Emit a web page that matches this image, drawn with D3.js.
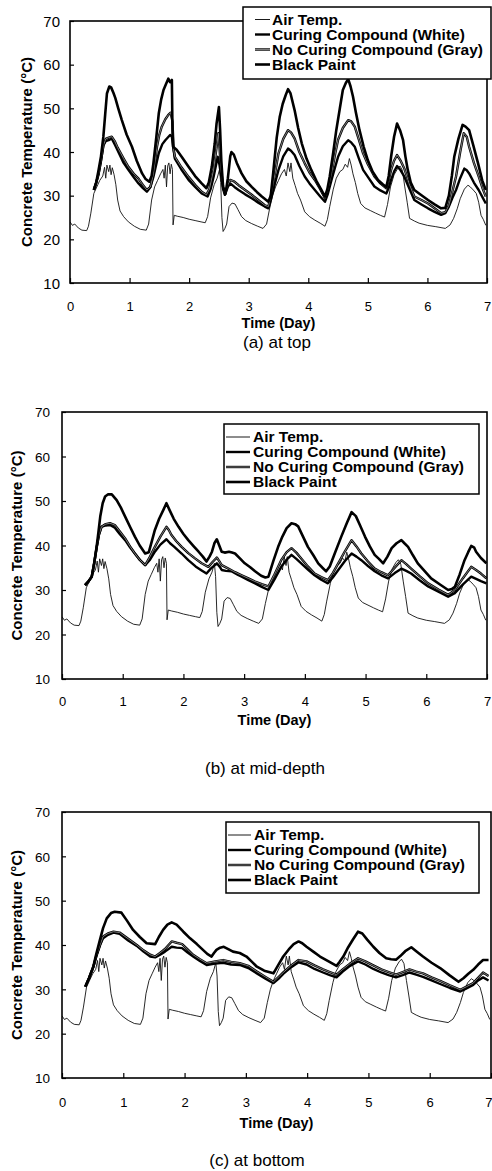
<!DOCTYPE html>
<html><head><meta charset="utf-8">
<script src="https://cdn.jsdelivr.net/npm/d3@7"></script>
<style>body{margin:0;background:#fff}svg{display:block}</style>
</head><body>
<svg id="chart" width="492" height="1171"></svg>
<script>
// ---------- data ----------
const xTicks = [0,1,2,3,4,5,6,7];
const yTicks = [10,20,30,40,50,60,70];
const seriesNames = ["Air Temp.","Curing Compound (White)","No Curing Compound (Gray)","Black Paint"];
const panelCaptions = ["(a) at top","(b) at mid-depth","(c) at bottom"];

const airTemp = [[0,24.0],[0.04,23.2],[0.08,23.5],[0.14,22.6],[0.2,22.1],[0.28,22.0],[0.31,23],[0.35,26],[0.4,30.5],[0.45,32],[0.5,33.5],[0.55,34.5],[0.58,36.5],[0.6,34],[0.62,37],[0.65,35.5],[0.67,37],[0.69,34.8],[0.71,36.4],[0.74,34.8],[0.77,32.5],[0.8,29],[0.84,26.5],[0.9,25.2],[0.98,24],[1.08,23],[1.18,22.3],[1.28,22.1],[1.32,23.5],[1.37,29],[1.42,32],[1.47,33.5],[1.52,35],[1.56,36],[1.58,34],[1.6,37],[1.62,32],[1.64,36.8],[1.66,37.5],[1.68,35],[1.7,37.2],[1.72,36],[1.73,23.3],[1.75,25.5],[1.8,25.3],[1.9,25],[2.0,24.6],[2.1,24.3],[2.2,24.0],[2.27,23.8],[2.31,25.2],[2.36,29.5],[2.42,32.5],[2.47,34],[2.51,36],[2.53,33],[2.55,25],[2.57,21.8],[2.6,22.5],[2.63,23.5],[2.67,27.5],[2.72,28.3],[2.77,28.1],[2.82,26.8],[2.88,25.2],[2.95,24.3],[3.05,23.6],[3.15,23],[3.24,22.5],[3.3,23.5],[3.35,27],[3.4,30],[3.45,32],[3.5,33.5],[3.55,35],[3.6,36],[3.63,34.5],[3.66,37.5],[3.69,35.5],[3.71,37.5],[3.74,34],[3.78,32.3],[3.82,30.5],[3.87,29],[3.94,26.3],[4.02,25.2],[4.11,24.4],[4.2,23.7],[4.28,23.0],[4.32,24.5],[4.36,27.5],[4.42,31.5],[4.47,34],[4.53,35.5],[4.58,36],[4.62,37.2],[4.66,36.5],[4.69,38.5],[4.72,37],[4.75,35],[4.79,33],[4.83,30.5],[4.88,28.2],[4.95,27.2],[5.04,26.6],[5.13,26],[5.21,25.5],[5.28,25.1],[5.33,28],[5.38,32],[5.44,34.8],[5.5,36.2],[5.54,36.8],[5.58,35.8],[5.62,32],[5.66,28.5],[5.7,24.8],[5.78,24.2],[5.86,23.7],[6.0,23.2],[6.14,22.9],[6.3,22.5],[6.38,23.3],[6.44,24.8],[6.5,27],[6.55,29.3],[6.62,31.5],[6.68,32.4],[6.72,32],[6.77,31.3],[6.82,30.5],[6.86,28.5],[6.9,25.5],[6.94,24.5],[6.98,23.2]];

const topBlack = [[0.40,31.3],[0.44,33],[0.48,35.9],[0.52,39],[0.56,43.5],[0.59,48.5],[0.62,53.4],[0.66,55],[0.69,54.8],[0.73,53.5],[0.76,52.4],[0.81,50],[0.87,47.3],[0.95,44],[1.04,41.2],[1.12,38],[1.21,35.1],[1.27,33.8],[1.33,33.2],[1.37,34.5],[1.40,37.4],[1.45,43.5],[1.49,48.8],[1.53,52],[1.57,54.2],[1.61,55.5],[1.65,56.8],[1.68,56],[1.71,56.5],[1.72,45],[1.73,41.2],[1.79,40.5],[1.88,38.8],[1.99,36.6],[2.1,34.5],[2.21,32.8],[2.29,31.7],[2.33,33],[2.38,36.6],[2.43,42],[2.46,46.5],[2.50,50.3],[2.52,45],[2.54,38],[2.57,32],[2.61,30.4],[2.65,34],[2.69,39],[2.71,40],[2.75,39.4],[2.8,37.5],[2.88,35.1],[2.96,33.3],[3.05,32],[3.14,30.8],[3.22,29.8],[3.33,28.6],[3.37,30],[3.41,35.1],[3.47,43.3],[3.52,48],[3.57,51],[3.62,53],[3.66,54.4],[3.7,53.5],[3.77,49.6],[3.83,45.5],[3.89,42],[3.97,38.5],[4.05,35.9],[4.14,33.3],[4.22,31.3],[4.28,29.8],[4.32,31.5],[4.36,34.4],[4.42,40],[4.47,45],[4.53,50],[4.58,54.2],[4.63,55.8],[4.67,56.7],[4.71,55],[4.75,52.7],[4.8,49],[4.86,45],[4.93,41.2],[5.0,38.1],[5.08,35.5],[5.17,33.6],[5.25,32.6],[5.31,32],[5.35,34.5],[5.39,38.9],[5.44,43.5],[5.49,46.5],[5.54,45],[5.59,42.8],[5.63,39],[5.67,35.9],[5.72,33],[5.78,31.3],[5.9,30.1],[6.01,29],[6.12,28],[6.23,27.1],[6.3,27.2],[6.36,30],[6.41,34.5],[6.45,38.9],[6.52,43],[6.59,46.2],[6.64,45.8],[6.7,45],[6.77,41.5],[6.85,37.4],[6.92,33.5],[6.98,31.3]];
const topGray = [[0.40,31.3],[0.44,33],[0.48,35],[0.52,38],[0.56,41.5],[0.6,43],[0.65,43.3],[0.70,43.5],[0.75,42.5],[0.8,41],[0.9,38.5],[0.98,36.6],[1.07,35],[1.15,33.9],[1.22,32.5],[1.29,31.3],[1.35,32],[1.40,35],[1.46,41.2],[1.50,44],[1.54,45.8],[1.6,47.5],[1.65,48.5],[1.69,49],[1.72,47],[1.74,40.5],[1.76,38.9],[1.87,36.5],[1.99,34.3],[2.1,32.5],[2.21,30.9],[2.29,30.2],[2.34,31.5],[2.41,35.9],[2.46,41],[2.49,44.3],[2.51,41],[2.53,36.6],[2.57,32],[2.60,30.4],[2.65,32.5],[2.69,33.6],[2.75,33.3],[2.83,32.4],[2.94,31.3],[3.05,30.2],[3.16,29],[3.27,27.8],[3.33,27.5],[3.38,30.5],[3.44,35],[3.5,39.7],[3.58,43],[3.66,45],[3.71,44.5],[3.77,43.1],[3.85,40],[3.94,37.4],[4.02,35.3],[4.11,33.6],[4.2,31.5],[4.28,29.4],[4.33,31.5],[4.39,35.1],[4.45,39.5],[4.50,42.8],[4.58,45.5],[4.67,47.3],[4.72,47],[4.78,45.8],[4.85,42.8],[4.92,39.7],[5.0,37.2],[5.11,34.4],[5.21,32.8],[5.31,31.7],[5.35,33.5],[5.39,35.9],[5.44,38],[5.49,39.3],[5.55,38],[5.61,36.3],[5.7,32.5],[5.78,29.8],[5.9,29],[6.01,28.2],[6.12,27.1],[6.23,26],[6.3,26.2],[6.36,27.8],[6.42,31],[6.48,34.4],[6.55,40],[6.61,44.3],[6.66,43.5],[6.7,41.2],[6.78,37.5],[6.86,34.4],[6.93,31.5],[6.98,29.8]];
const topWhite = [[0.40,31.3],[0.44,33],[0.48,35],[0.52,38],[0.56,41.5],[0.6,42.5],[0.65,42.7],[0.70,43.1],[0.76,41.5],[0.82,39.8],[0.9,37.5],[0.98,35.9],[1.07,34.2],[1.15,32.8],[1.22,31.8],[1.29,30.9],[1.35,32],[1.40,34.3],[1.49,39.7],[1.55,41.8],[1.6,42.7],[1.68,43.9],[1.71,43.5],[1.72,42.4],[1.76,38.5],[1.87,36],[1.99,33.6],[2.1,32],[2.21,30.5],[2.31,29.8],[2.36,31.5],[2.41,34.3],[2.48,38.9],[2.51,37],[2.53,35.1],[2.57,31.5],[2.60,30.2],[2.65,32],[2.69,32.8],[2.76,32],[2.83,31.3],[2.94,30.3],[3.05,29.4],[3.16,28.4],[3.27,27.5],[3.33,27.1],[3.38,29.5],[3.44,32.8],[3.5,35.9],[3.58,39],[3.66,40.8],[3.71,40.3],[3.77,39.3],[3.85,36.8],[3.94,34.4],[4.02,32.8],[4.11,31.3],[4.2,29.8],[4.28,28.6],[4.33,30.5],[4.39,33.6],[4.45,36.5],[4.5,38.9],[4.58,41.3],[4.67,42.7],[4.72,42.2],[4.78,41.2],[4.85,38.5],[4.92,35.9],[5.0,34.3],[5.11,32.1],[5.21,31.2],[5.31,30.5],[5.35,31.8],[5.39,33.6],[5.44,35.5],[5.49,36.8],[5.55,35.8],[5.61,34.4],[5.7,31.5],[5.78,29],[5.9,28],[6.01,27.1],[6.12,26.3],[6.23,25.6],[6.3,26],[6.36,27.5],[6.42,29.5],[6.48,31.3],[6.55,34],[6.62,36.2],[6.66,35.8],[6.7,35.1],[6.78,33],[6.86,31.3],[6.93,29.5],[6.98,28.2]];

const midBlack = [[0.38,31.1],[0.44,32],[0.49,33],[0.53,36],[0.57,39.7],[0.6,43],[0.63,46.5],[0.67,49.5],[0.71,51],[0.76,51.5],[0.82,51.5],[0.9,50.2],[0.97,48.5],[1.04,46.5],[1.12,44.2],[1.20,42],[1.28,40],[1.37,38.2],[1.43,38.5],[1.48,41],[1.53,43.5],[1.6,46],[1.67,48],[1.72,49.5],[1.77,48],[1.84,46],[1.92,44.2],[2.0,42.6],[2.08,41.2],[2.17,39.8],[2.25,38.6],[2.32,37.5],[2.38,36.4],[2.43,37.5],[2.47,38.6],[2.51,40.5],[2.55,41.4],[2.59,40],[2.63,38.6],[2.68,38.4],[2.75,38.6],[2.8,38.4],[2.85,38.2],[2.93,37.1],[3.01,36],[3.1,35.1],[3.18,34.2],[3.28,33.2],[3.35,32.8],[3.4,33],[3.48,36.5],[3.56,39.7],[3.63,42],[3.70,43.9],[3.78,45],[3.84,44.8],[3.89,44.3],[3.97,42],[4.05,39.7],[4.14,37.8],[4.22,36],[4.29,35],[4.35,34.2],[4.41,35.3],[4.5,38.5],[4.6,42],[4.69,45],[4.77,47.5],[4.84,46.6],[4.91,44.5],[4.99,42],[5.07,39.8],[5.15,37.9],[5.22,37],[5.29,36],[5.36,37.5],[5.43,39.4],[5.51,40.5],[5.59,41.2],[5.64,40.5],[5.70,39.7],[5.78,37.8],[5.86,36],[5.97,34.3],[6.08,32.6],[6.22,31.3],[6.36,30],[6.42,30.2],[6.47,30.7],[6.55,33.5],[6.63,36.7],[6.69,38.5],[6.74,39.9],[6.79,39.5],[6.82,38.6],[6.9,37.2],[6.99,36]];
const midGray = [[0.38,31.1],[0.44,32],[0.49,33],[0.53,36],[0.57,39.5],[0.61,42.5],[0.65,44.2],[0.72,44.8],[0.79,45],[0.87,44.6],[0.95,43.2],[1.04,41.6],[1.12,39.8],[1.20,38.2],[1.28,36.8],[1.37,35.6],[1.45,37.5],[1.53,39.7],[1.62,42],[1.72,44.2],[1.76,43.5],[1.80,42.4],[1.88,41],[1.97,39.7],[2.08,38.3],[2.19,37.1],[2.3,36],[2.41,35.2],[2.48,36.3],[2.55,37.3],[2.59,36.5],[2.63,35.6],[2.74,34.8],[2.85,34],[2.96,33.3],[3.07,32.6],[3.18,31.9],[3.29,31.3],[3.40,30.8],[3.5,33.5],[3.61,36.7],[3.7,38.5],[3.78,39.4],[3.86,38.4],[3.94,37.1],[4.05,35.3],[4.16,33.7],[4.27,32.9],[4.38,32.2],[4.46,33.8],[4.55,36],[4.66,38.7],[4.77,41.2],[4.85,39.8],[4.93,38.2],[5.04,36.4],[5.15,34.8],[5.26,34],[5.37,33.3],[5.48,35],[5.59,36.7],[5.67,35.8],[5.75,34.8],[5.89,33.1],[6.03,31.5],[6.2,30.1],[6.36,28.9],[6.47,30],[6.6,32.6],[6.74,35.2],[6.82,34.5],[6.9,33.7],[6.99,32.6]];
const midWhite = [[0.38,31.1],[0.44,32],[0.49,33],[0.53,36],[0.57,39.5],[0.61,42.5],[0.65,44.2],[0.72,44.5],[0.79,44.6],[0.87,44],[0.95,42.6],[1.04,41.2],[1.12,39.6],[1.20,38.2],[1.28,36.8],[1.37,35.6],[1.45,36.8],[1.53,38.6],[1.62,40.2],[1.72,41.4],[1.78,40.5],[1.85,39.7],[1.97,38.2],[2.08,36.7],[2.2,35.3],[2.3,34.4],[2.38,33.7],[2.45,34.8],[2.55,36],[2.6,35.2],[2.63,34.5],[2.7,34.3],[2.79,34.2],[2.9,33.4],[2.96,33],[3.07,32.2],[3.18,31.5],[3.29,30.7],[3.40,30],[3.5,32.4],[3.61,35.2],[3.7,36.8],[3.78,37.9],[3.86,37],[3.94,36],[4.05,34.6],[4.16,33.3],[4.27,32.3],[4.38,31.5],[4.46,32.8],[4.55,34.5],[4.66,36.5],[4.77,38.2],[4.85,37.5],[4.93,36.7],[5.04,35.4],[5.15,34.2],[5.26,33.3],[5.37,32.6],[5.48,33.8],[5.59,34.8],[5.67,34.3],[5.75,33.7],[5.89,32.2],[6.03,30.8],[6.2,29.6],[6.36,28.5],[6.47,29.3],[6.6,31.2],[6.74,33],[6.82,32.5],[6.9,32],[6.99,31.5]];

const botBlack = [[0.38,30.6],[0.44,32.5],[0.51,35.1],[0.56,38],[0.62,41.2],[0.67,43.8],[0.73,46],[0.8,47.2],[0.86,47.5],[0.97,47.3],[1.06,45.5],[1.16,43.4],[1.27,41.8],[1.38,40.4],[1.52,40.2],[1.58,41.8],[1.65,43.4],[1.72,44.6],[1.79,45.1],[1.87,44.6],[1.98,43],[2.09,41.5],[2.2,40.2],[2.30,38.9],[2.37,38],[2.44,37.4],[2.48,38.2],[2.52,38.9],[2.58,39.4],[2.64,39.6],[2.72,39],[2.79,38.5],[2.9,38.2],[3.01,37.4],[3.1,36.2],[3.18,35.1],[3.3,34.2],[3.45,33.6],[3.53,35.5],[3.61,37.4],[3.7,39],[3.78,40.2],[3.86,40.8],[3.92,40.4],[3.99,39.6],[4.1,38.5],[4.21,37.4],[4.35,36.3],[4.48,35.3],[4.53,36.2],[4.59,37.4],[4.67,39.5],[4.75,41.3],[4.83,43],[4.9,42.6],[4.98,41.2],[5.08,39.6],[5.18,38.2],[5.29,37],[5.37,36.8],[5.45,36.7],[5.52,37.5],[5.6,38.6],[5.7,39.5],[5.78,38.6],[5.89,37.4],[6.03,36],[6.17,34.8],[6.32,33.2],[6.47,31.7],[6.55,32.5],[6.63,33.5],[6.71,34.4],[6.79,35.6],[6.87,36.6],[6.96,36.6]];
const botGray = [[0.38,30.6],[0.44,32.5],[0.51,35],[0.56,37.5],[0.62,40],[0.67,41.9],[0.75,42.6],[0.84,43],[0.94,42.8],[1.08,41.4],[1.22,40],[1.33,38.8],[1.44,37.8],[1.52,37.4],[1.6,38.2],[1.68,39.1],[1.79,40.8],[1.87,40.5],[1.96,40.2],[2.05,39],[2.14,37.8],[2.25,36.8],[2.36,35.9],[2.5,36.3],[2.63,36.6],[2.76,36.2],[2.9,35.9],[3.04,35.3],[3.18,34],[3.32,32.8],[3.45,31.7],[3.55,33],[3.61,33.8],[3.74,35.4],[3.86,36.6],[3.99,36.3],[4.12,35.4],[4.26,34.5],[4.37,33.9],[4.48,33.3],[4.58,34.5],[4.7,35.8],[4.83,37],[4.95,36.3],[5.08,35.4],[5.21,34.5],[5.33,33.9],[5.45,33.3],[5.56,33.9],[5.67,34.5],[5.78,34],[5.89,33.6],[6.03,32.7],[6.17,31.9],[6.33,30.9],[6.5,29.9],[6.6,30.6],[6.71,31.4],[6.79,32.6],[6.87,33.8],[6.96,33]];
const botWhite = [[0.38,30.6],[0.44,32.5],[0.51,35],[0.56,37.5],[0.62,40],[0.67,41.5],[0.75,42.3],[0.84,42.8],[0.94,42.5],[1.08,41],[1.22,39.8],[1.33,38.5],[1.44,37.4],[1.52,37.2],[1.6,37.8],[1.68,38.5],[1.79,39.6],[1.87,39.4],[1.96,39.3],[2.05,38.3],[2.14,37.4],[2.25,36.4],[2.36,35.5],[2.5,35.8],[2.63,36],[2.76,35.6],[2.9,35.5],[3.04,34.8],[3.18,33.6],[3.32,32.4],[3.45,31.4],[3.55,32.6],[3.61,33.5],[3.74,35],[3.86,36.1],[3.99,35.6],[4.12,34.6],[4.26,33.8],[4.37,33.2],[4.48,32.7],[4.58,34],[4.7,35.3],[4.83,36.3],[4.95,35.6],[5.08,34.6],[5.21,33.8],[5.33,33.2],[5.45,32.7],[5.56,33.2],[5.67,33.8],[5.78,33.3],[5.89,32.8],[6.03,32],[6.17,31.2],[6.33,30.3],[6.5,29.5],[6.6,30.2],[6.71,31],[6.79,32],[6.87,32.7],[6.96,32]];

// ---------- layout ----------
const svg = d3.select("#chart");
const FONT = "'Liberation Sans', Arial, sans-serif";

const panels = [
  {box:{l:70,r:487,t:21,b:283}, ytick:15, ylx:27, legend:{x:243,y:7,w:248,h:72,tx:272,mx0:255,mx1:270,ly:[19.5,34.5,49.5,64.5]},
   tickY:306, titleY:323, capY:342, capX:277, series:[topWhite,topGray,topBlack]},
  {box:{l:62,r:487,t:412,b:679}, ytick:13.5, ylx:17, legend:{x:224,y:424,w:255,h:70,tx:253,mx0:226,mx1:250,ly:[437,452,467,482]},
   tickY:701, titleY:720, capY:768, capX:265, series:[midWhite,midGray,midBlack]},
  {box:{l:62,r:491,t:812,b:1078}, ytick:13.5, ylx:17, legend:{x:226,y:822,w:253,h:71,tx:254,mx0:228,mx1:251,ly:[835,850,865,880]},
   tickY:1102, titleY:1123, capY:1160, capX:257, series:[botWhite,botGray,botBlack]}
];

panels.forEach((p,i)=>{
  const b = p.box;
  const x = d3.scaleLinear().domain([0,7]).range([b.l,b.r]);
  const y = d3.scaleLinear().domain([10,70]).range([b.b,b.t]);
  const g = svg.append("g");
  const clipId = "clip"+i;
  svg.append("clipPath").attr("id",clipId).append("rect")
     .attr("x",b.l).attr("y",b.t).attr("width",b.r-b.l).attr("height",b.b-b.t);

  const line = d3.line().x(d=>x(d[0])).y(d=>y(d[1]));
  const lg = g.append("g").attr("clip-path",`url(#${clipId})`);
  lg.append("path").datum(airTemp).attr("d",line).attr("fill","none")
    .attr("stroke","#111").attr("stroke-width",0.9).attr("stroke-linejoin","round");
  const [w,gr,bl] = p.series;
  lg.append("path").datum(w).attr("d",line).attr("fill","none").attr("stroke","#000").attr("stroke-width",2.4).attr("stroke-linejoin","round");
  lg.append("path").datum(gr).attr("d",line).attr("fill","none").attr("stroke","#000").attr("stroke-width",2.4).attr("stroke-linejoin","round");
  lg.append("path").datum(gr).attr("d",line).attr("fill","none").attr("stroke","#9a9a9a").attr("stroke-width",0.8).attr("stroke-linejoin","round");
  lg.append("path").datum(bl).attr("d",line).attr("fill","none").attr("stroke","#000").attr("stroke-width",2.6).attr("stroke-linejoin","round");

  // axes
  const xAxis = d3.axisBottom(x).tickValues(xTicks).tickSize(-5).tickPadding(0).tickFormat(d3.format("d"));
  const yAxis = d3.axisLeft(y).tickValues(yTicks).tickSize(-4).tickPadding(0).tickFormat(d3.format("d"));
  const xg = g.append("g").attr("transform",`translate(0,${b.b})`).call(xAxis);
  const yg = g.append("g").attr("transform",`translate(${b.l},0)`).call(yAxis);
  [xg,yg].forEach(a=>{a.select(".domain").remove(); a.selectAll("line").attr("stroke","#000").attr("stroke-width",1.2);});
  xg.selectAll("text").attr("y",p.tickY-b.b).attr("dy","0.35em").attr("font-family",FONT).attr("font-size",13).attr("fill","#000")
    .attr("text-anchor",d=> (x(d)+5>492) ? "end" : "middle")
    .attr("x",d=> (x(d)+5>492) ? 492-x(d) : 0);
  yg.selectAll("text").attr("x",i===0?-10:-12).attr("dy","0.35em").attr("font-family",FONT).attr("font-size",p.ytick).attr("fill","#000");

  // frame
  g.append("rect").attr("x",b.l).attr("y",b.t).attr("width",b.r-b.l).attr("height",b.b-b.t)
   .attr("fill","none").attr("stroke","#000").attr("stroke-width",1.6);

  // axis titles
  g.append("text").attr("x",x(3.5)).attr("y",p.titleY).attr("dy","0.35em")
   .attr("text-anchor","middle").attr("font-family",FONT).attr("font-weight","bold").attr("font-size",14.5)
   .text("Time (Day)");
  g.append("text").attr("transform",`translate(${p.ylx},${(b.t+b.b)/2}) rotate(-90)`).attr("dy","0.35em")
   .attr("text-anchor","middle").attr("font-family",FONT).attr("font-weight","bold").attr("font-size",15)
   .text("Concrete Temperature (°C)");

  // legend
  const L = p.legend;
  const leg = g.append("g");
  leg.append("rect").attr("x",L.x).attr("y",L.y).attr("width",L.w).attr("height",L.h)
     .attr("fill","#fff").attr("stroke","#000").attr("stroke-width",1.5);
  const widths = [0.9,2.4,2.4,2.6];
  seriesNames.forEach((name,k)=>{
    leg.append("line").attr("x1",L.mx0).attr("x2",L.mx1).attr("y1",L.ly[k]).attr("y2",L.ly[k])
       .attr("stroke","#000").attr("stroke-width",widths[k]);
    if(k===2) leg.append("line").attr("x1",L.mx0).attr("x2",L.mx1).attr("y1",L.ly[k]).attr("y2",L.ly[k])
       .attr("stroke","#9a9a9a").attr("stroke-width",0.8);
    leg.append("text").attr("x",L.tx).attr("y",L.ly[k]).attr("dy","0.35em")
       .attr("font-family",FONT).attr("font-weight","bold").attr("font-size",15.5).text(name);
  });

  // caption
  g.append("text").attr("x",p.capX).attr("y",p.capY).attr("dy","0.35em").attr("text-anchor","middle")
   .attr("font-family",FONT).attr("font-size",17).text(panelCaptions[i]);
});
</script>
</body></html>
